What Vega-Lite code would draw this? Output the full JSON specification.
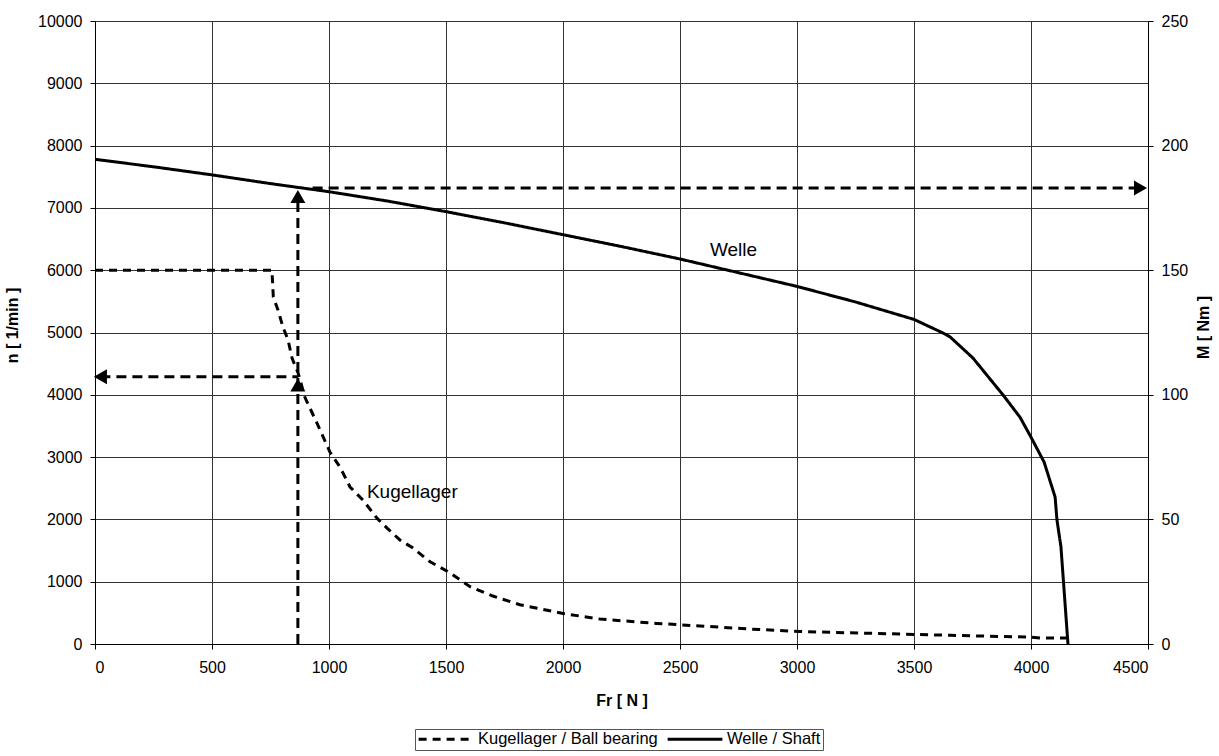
{
  "$schema": "https://vega.github.io/schema/vega-lite/v6.json",
  "width": 1053,
  "height": 623,
  "autosize": {"type": "none"},
  "padding": {"left": 95, "top": 21, "right": 71, "bottom": 112},
  "background": "white",
  "config": {
    "font": "Liberation Sans",
    "view": {"stroke": null},
    "axis": {
      "labelFont": "Liberation Sans",
      "labelFontSize": 16,
      "labelColor": "#000",
      "titleFont": "Liberation Sans",
      "titleFontSize": 16,
      "titleFontWeight": "bold",
      "titleColor": "#000",
      "domainColor": "#000",
      "domainWidth": 1,
      "tickColor": "#000",
      "tickSize": 5,
      "gridColor": "#333",
      "gridWidth": 1,
      "format": "d"
    },
    "legend": {
      "labelFont": "Liberation Sans",
      "labelFontSize": 16.5,
      "labelColor": "#000"
    }
  },
  "datasets": {
    "curves": [
      {"series": "Kugellager / Ball bearing", "Fr": 0, "n": 6000},
      {"series": "Kugellager / Ball bearing", "Fr": 756, "n": 6000},
      {"series": "Kugellager / Ball bearing", "Fr": 759, "n": 5800},
      {"series": "Kugellager / Ball bearing", "Fr": 762, "n": 5570},
      {"series": "Kugellager / Ball bearing", "Fr": 782, "n": 5360},
      {"series": "Kugellager / Ball bearing", "Fr": 803, "n": 5090},
      {"series": "Kugellager / Ball bearing", "Fr": 825, "n": 4880},
      {"series": "Kugellager / Ball bearing", "Fr": 842, "n": 4590},
      {"series": "Kugellager / Ball bearing", "Fr": 868, "n": 4350},
      {"series": "Kugellager / Ball bearing", "Fr": 897, "n": 3960},
      {"series": "Kugellager / Ball bearing", "Fr": 948, "n": 3550},
      {"series": "Kugellager / Ball bearing", "Fr": 1004, "n": 3080},
      {"series": "Kugellager / Ball bearing", "Fr": 1047, "n": 2840},
      {"series": "Kugellager / Ball bearing", "Fr": 1090, "n": 2520},
      {"series": "Kugellager / Ball bearing", "Fr": 1145, "n": 2310},
      {"series": "Kugellager / Ball bearing", "Fr": 1205, "n": 2020},
      {"series": "Kugellager / Ball bearing", "Fr": 1248, "n": 1860},
      {"series": "Kugellager / Ball bearing", "Fr": 1303, "n": 1670},
      {"series": "Kugellager / Ball bearing", "Fr": 1359, "n": 1540},
      {"series": "Kugellager / Ball bearing", "Fr": 1432, "n": 1320},
      {"series": "Kugellager / Ball bearing", "Fr": 1509, "n": 1160},
      {"series": "Kugellager / Ball bearing", "Fr": 1603, "n": 920},
      {"series": "Kugellager / Ball bearing", "Fr": 1700, "n": 770},
      {"series": "Kugellager / Ball bearing", "Fr": 1816, "n": 630},
      {"series": "Kugellager / Ball bearing", "Fr": 2000, "n": 490},
      {"series": "Kugellager / Ball bearing", "Fr": 2158, "n": 400},
      {"series": "Kugellager / Ball bearing", "Fr": 2400, "n": 330},
      {"series": "Kugellager / Ball bearing", "Fr": 2585, "n": 290},
      {"series": "Kugellager / Ball bearing", "Fr": 2800, "n": 240},
      {"series": "Kugellager / Ball bearing", "Fr": 3013, "n": 200},
      {"series": "Kugellager / Ball bearing", "Fr": 3440, "n": 160},
      {"series": "Kugellager / Ball bearing", "Fr": 3654, "n": 140},
      {"series": "Kugellager / Ball bearing", "Fr": 4000, "n": 110},
      {"series": "Kugellager / Ball bearing", "Fr": 4040, "n": 95},
      {"series": "Kugellager / Ball bearing", "Fr": 4150, "n": 95},
      {"series": "Welle / Shaft", "Fr": 0, "n": 7780},
      {"series": "Welle / Shaft", "Fr": 250, "n": 7660},
      {"series": "Welle / Shaft", "Fr": 500, "n": 7530},
      {"series": "Welle / Shaft", "Fr": 750, "n": 7390},
      {"series": "Welle / Shaft", "Fr": 1000, "n": 7260},
      {"series": "Welle / Shaft", "Fr": 1250, "n": 7110},
      {"series": "Welle / Shaft", "Fr": 1500, "n": 6940},
      {"series": "Welle / Shaft", "Fr": 1750, "n": 6760},
      {"series": "Welle / Shaft", "Fr": 2000, "n": 6570},
      {"series": "Welle / Shaft", "Fr": 2250, "n": 6380},
      {"series": "Welle / Shaft", "Fr": 2500, "n": 6180},
      {"series": "Welle / Shaft", "Fr": 2750, "n": 5960},
      {"series": "Welle / Shaft", "Fr": 3000, "n": 5740},
      {"series": "Welle / Shaft", "Fr": 3250, "n": 5490},
      {"series": "Welle / Shaft", "Fr": 3500, "n": 5210},
      {"series": "Welle / Shaft", "Fr": 3625, "n": 4990},
      {"series": "Welle / Shaft", "Fr": 3654, "n": 4930},
      {"series": "Welle / Shaft", "Fr": 3752, "n": 4590},
      {"series": "Welle / Shaft", "Fr": 3880, "n": 4000},
      {"series": "Welle / Shaft", "Fr": 3953, "n": 3640},
      {"series": "Welle / Shaft", "Fr": 4000, "n": 3320},
      {"series": "Welle / Shaft", "Fr": 4056, "n": 2920},
      {"series": "Welle / Shaft", "Fr": 4103, "n": 2360},
      {"series": "Welle / Shaft", "Fr": 4111, "n": 1990},
      {"series": "Welle / Shaft", "Fr": 4128, "n": 1560},
      {"series": "Welle / Shaft", "Fr": 4158, "n": 0}
    ],
    "guides_n": [
      {"id": "vertical", "Fr": 867, "n": 0},
      {"id": "vertical", "Fr": 867, "n": 7180},
      {"id": "horizontal", "Fr": 23, "n": 4290},
      {"id": "horizontal", "Fr": 867, "n": 4290}
    ],
    "arrows_up": [
      {"Fr": 867, "n": 7183},
      {"Fr": 867, "n": 4157}
    ],
    "arrows_left": [
      {"Fr": 23, "n": 4290}
    ],
    "guides_M": [
      {"id": "torque", "Fr": 930, "M": 183},
      {"id": "torque", "Fr": 4468, "M": 183}
    ],
    "arrows_right": [
      {"Fr": 4468, "M": 183}
    ],
    "labels": [
      {"label": "Welle", "Fr": 2628, "n": 6324},
      {"label": "Kugellager", "Fr": 1162, "n": 2440}
    ]
  },
  "encoding": {
    "x": {
      "field": "Fr",
      "type": "quantitative",
      "scale": {"domain": [0, 4500], "nice": false, "zero": false},
      "axis": {
        "title": "Fr [ N ]",
        "values": [0, 500, 1000, 1500, 2000, 2500, 3000, 3500, 4000, 4500],
        "format": "d",
        "labelPadding": 10,
        "titleY": 56,
        "titleBaseline": "middle",
        "grid": true
      }
    }
  },
  "layer": [
    {
      "encoding": {
        "y": {
          "field": "n",
          "type": "quantitative",
          "scale": {"domain": [0, 10000], "nice": false},
          "axis": {
            "title": "n [ 1/min ]",
            "orient": "left",
            "values": [0, 1000, 2000, 3000, 4000, 5000, 6000, 7000, 8000, 9000, 10000],
            "format": "d",
            "labelPadding": 8,
            "titleAngle": 270,
            "titleX": -83,
            "titleY": 304,
            "titleBaseline": "middle",
            "titleAlign": "center",
            "grid": true
          }
        }
      },
      "layer": [
        {
          "data": {"name": "guides_n"},
          "mark": {"type": "line", "color": "#000", "strokeWidth": 3, "strokeDash": [10, 6]},
          "encoding": {"detail": {"field": "id", "type": "nominal"}}
        },
        {
          "data": {"name": "arrows_up"},
          "mark": {"type": "point", "filled": true, "color": "#000", "opacity": 1, "size": 225, "shape": "M0,-0.87L1,0.87L-1,0.87Z"},
          "encoding": {}
        },
        {
          "data": {"name": "arrows_left"},
          "mark": {"type": "point", "filled": true, "color": "#000", "opacity": 1, "size": 225, "shape": "M-0.87,0L0.87,-1L0.87,1Z"},
          "encoding": {}
        },
        {
          "data": {"name": "curves"},
          "mark": {"type": "line", "color": "#000", "strokeWidth": 3},
          "encoding": {
            "strokeDash": {
              "field": "series",
              "type": "nominal",
              "scale": {"domain": ["Kugellager / Ball bearing", "Welle / Shaft"], "range": [[8, 6], [1, 0]]},
              "legend": {
                "title": null,
                "orient": "none",
                "legendX": 320,
                "legendY": 708,
                "direction": "horizontal",
                "symbolType": "stroke",
                "symbolSize": 3000,
                "clipHeight": 16,
                "symbolStrokeWidth": 3,
                "symbolStrokeColor": "#000",
                "labelLimit": 400,
                "labelOffset": 3,
                "columnPadding": 8,
                "padding": 2,
                "strokeColor": "#555",
                "fillColor": "white"
              }
            }
          }
        },
        {
          "data": {"name": "labels"},
          "mark": {"type": "text", "align": "left", "baseline": "middle", "fontSize": 19, "font": "Liberation Sans", "color": "#000"},
          "encoding": {"text": {"field": "label", "type": "nominal"}}
        }
      ]
    },
    {
      "encoding": {
        "y": {
          "field": "M",
          "type": "quantitative",
          "scale": {"domain": [0, 250], "nice": false},
          "axis": {
            "title": "M [ Nm ]",
            "orient": "right",
            "values": [0, 50, 100, 150, 200, 250],
            "format": "d",
            "labelPadding": 8,
            "titleAngle": 270,
            "titleX": 55,
            "titleY": 306,
            "titleBaseline": "middle",
            "titleAlign": "center",
            "grid": false
          }
        }
      },
      "layer": [
        {
          "data": {"name": "guides_M"},
          "mark": {"type": "line", "color": "#000", "strokeWidth": 3, "strokeDash": [10, 6]},
          "encoding": {"detail": {"field": "id", "type": "nominal"}}
        },
        {
          "data": {"name": "arrows_right"},
          "mark": {"type": "point", "filled": true, "color": "#000", "opacity": 1, "size": 225, "shape": "M0.87,0L-0.87,-1L-0.87,1Z"},
          "encoding": {}
        }
      ]
    }
  ],
  "resolve": {"scale": {"y": "independent"}}
}
